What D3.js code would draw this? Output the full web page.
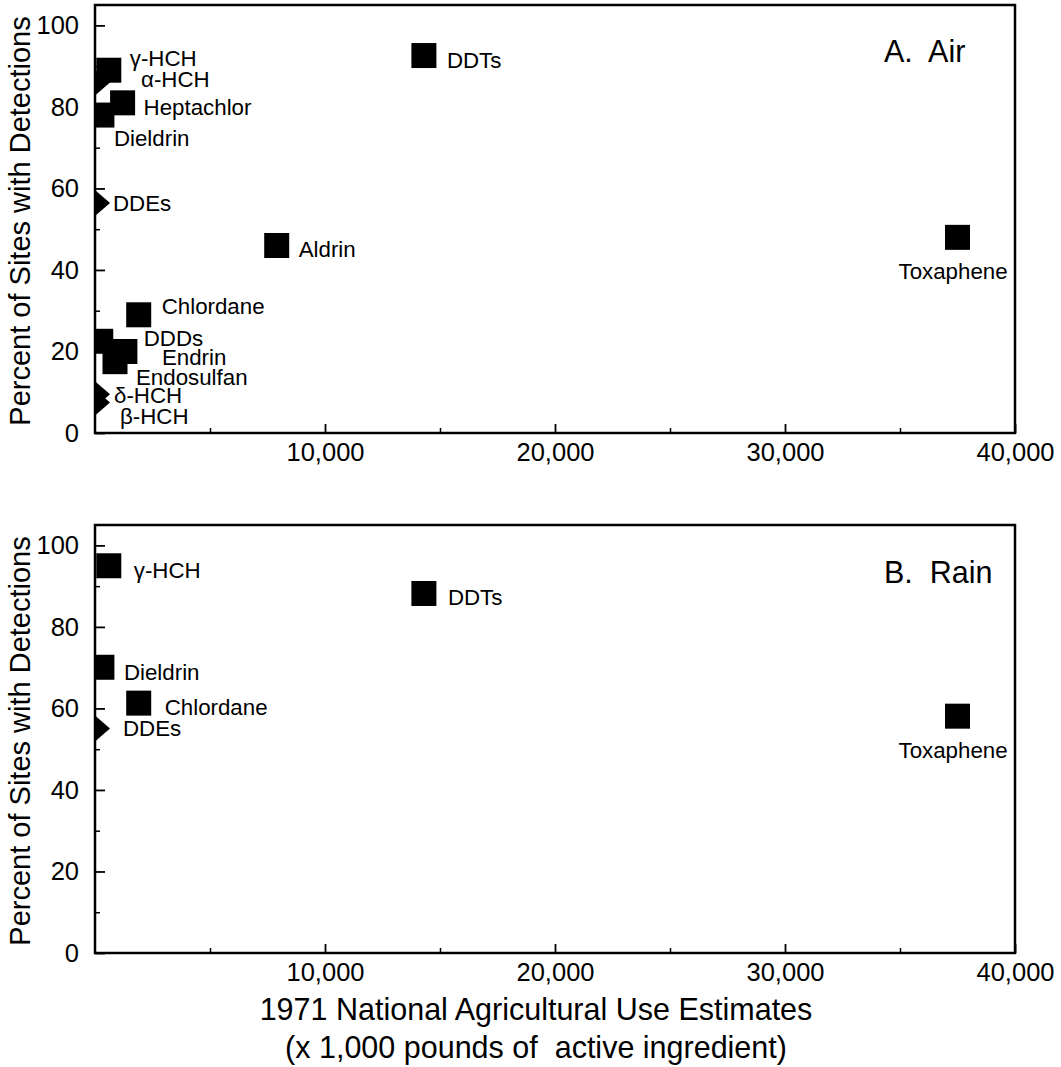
<!DOCTYPE html>
<html>
<head>
<meta charset="utf-8">
<script src="https://cdn.jsdelivr.net/npm/d3@7"></script>
<style>
  html, body { margin: 0; padding: 0; background: #fff; }
  svg { display: block; }
  text { font-family: "Liberation Sans", Arial, Helvetica, sans-serif; fill: #000; white-space: pre; }
</style>
</head>
<body>
<svg id="chart" width="1061" height="1067"></svg>
<script>
// ---------- DATA ----------
// Panel A: Air. null use = no 1971 use estimate (plotted on the axis as a diamond)
const compoundsA = ["DDTs", "γ-HCH", "α-HCH", "Heptachlor", "Dieldrin", "DDEs", "Aldrin", "Toxaphene",
                    "Chlordane", "DDDs", "Endrin", "Endosulfan", "δ-HCH", "β-HCH"];
const useA       = [14300, 600, null, 1200, 300, null, 7900, 37500, 1900, 250, 1300, 870, null, null];
const percentA   = [92.6, 89, 86, 81, 78, 56.4, 46, 48, 29, 22.5, 20, 17.5, 9.5, 7.5];

// Panel B: Rain
const compoundsB = ["γ-HCH", "DDTs", "Dieldrin", "Chlordane", "DDEs", "Toxaphene"];
const useB       = [600, 14300, 300, 1900, null, 37500];
const percentB   = [95, 88.2, 70.1, 61.3, 55.1, 58.1];

const xTicks      = [10000, 20000, 30000, 40000];
const xMinorTicks = [5000, 15000, 25000, 35000];
const yTicks      = [0, 20, 40, 60, 80, 100];
const yMinorTicks = [10, 30, 50, 70, 90];

const panelTitles = ["A.  Air", "B.  Rain"];
const yTitle = "Percent of Sites with Detections";
const xTitle1 = "1971 National Agricultural Use Estimates";
const xTitle2 = "(x 1,000 pounds of  active ingredient)";

// ---------- LAYOUT (label offsets from marker centre, px) ----------
const labelOffA = {
  "DDTs": [23, 12], "γ-HCH": [21, -4], "α-HCH": [46, 5], "Heptachlor": [21, 12], "Dieldrin": [12, 31],
  "DDEs": [18, 8], "Aldrin": [22, 12], "Toxaphene": [-59, 42], "Chlordane": [23, -1], "DDDs": [43, 5],
  "Endrin": [37, 14], "Endosulfan": [21, 23], "δ-HCH": [19, 9], "β-HCH": [25, 22]
};
const labelOffB = {
  "γ-HCH": [25, 12], "DDTs": [24, 12], "Dieldrin": [22, 13], "Chlordane": [26, 12],
  "DDEs": [28, 8], "Toxaphene": [-59, 42]
};

const svg = d3.select("#chart");
const left = 95, right = 1015;
const x = d3.scaleLinear().domain([0, 40000]).range([left, right]);
const FONT = "'Liberation Sans', Arial, sans-serif";

function drawPanel(top, bottom, names, uses, pcts, offs, title, titlePos) {
  const y = d3.scaleLinear().domain([0, 105]).range([bottom, top]);
  const g = svg.append("g");
  const clipId = "clip" + top;
  g.append("clipPath").attr("id", clipId)
    .append("rect").attr("x", left).attr("y", top).attr("width", right - left).attr("height", bottom - top);

  // markers
  const mg = g.append("g").attr("clip-path", `url(#${clipId})`);
  names.forEach((n, i) => {
    const u = uses[i];
    const cx = x(u === null ? 0 : u), cy = y(pcts[i]);
    if (u === null) {
      mg.append("path")
        .attr("d", `M${cx},${cy - 13} L${cx + 15},${cy} L${cx},${cy + 13} L${cx - 15},${cy} Z`)
        .attr("fill", "#000");
    } else {
      mg.append("rect").attr("x", cx - 12.5).attr("y", cy - 12.5)
        .attr("width", 25).attr("height", 25).attr("fill", "#000");
    }
    const o = offs[n];
    g.append("text").attr("x", cx + o[0]).attr("y", cy + o[1])
      .attr("font-size", 22.3).text(n);
  });

  // frame
  g.append("rect").attr("x", left).attr("y", top).attr("width", right - left).attr("height", bottom - top)
    .attr("fill", "none").attr("stroke", "#000").attr("stroke-width", 2.5);

  // x axis ticks (inward)
  const xa = g.append("g").attr("transform", `translate(0,${bottom})`)
    .call(d3.axisBottom(x).tickValues(xTicks).tickSizeInner(-9).tickSizeOuter(0)
      .tickPadding(10).tickFormat(d3.format(",")));
  xa.select(".domain").remove();
  xa.selectAll("line").attr("stroke-width", 1.8);
  xa.selectAll("text").attr("font-size", 25.5).attr("font-family", FONT).attr("fill", "#000");
  const xm = g.append("g").attr("transform", `translate(0,${bottom})`)
    .call(d3.axisBottom(x).tickValues(xMinorTicks).tickSizeInner(-5).tickSizeOuter(0).tickFormat(""));
  xm.select(".domain").remove();
  xm.selectAll("line").attr("stroke-width", 1.5);

  // y axis ticks (inward)
  const ya = g.append("g").attr("transform", `translate(${left},0)`)
    .call(d3.axisLeft(y).tickValues(yTicks).tickSizeInner(-10).tickSizeOuter(0).tickPadding(16));
  ya.select(".domain").remove();
  ya.selectAll("line").attr("stroke-width", 1.8);
  ya.selectAll("text").attr("font-size", 25.5).attr("font-family", FONT).attr("fill", "#000");
  const ym = g.append("g").attr("transform", `translate(${left},0)`)
    .call(d3.axisLeft(y).tickValues(yMinorTicks).tickSizeInner(-5).tickSizeOuter(0).tickFormat(""));
  ym.select(".domain").remove();
  ym.selectAll("line").attr("stroke-width", 1.5);

  // panel title
  g.append("text").attr("x", titlePos[0]).attr("y", titlePos[1]).attr("font-size", 30.5).text(title);

  // y title
  g.append("text").attr("transform", `translate(30,${(top + bottom) / 2 + 2}) rotate(-90)`)
    .attr("text-anchor", "middle").attr("font-size", 29).text(yTitle);
}

drawPanel(5, 433, compoundsA, useA, percentA, labelOffA, panelTitles[0], [884, 62]);
drawPanel(525, 953, compoundsB, useB, percentB, labelOffB, panelTitles[1], [884, 583]);

svg.append("text").attr("x", 536).attr("y", 1020).attr("text-anchor", "middle")
  .attr("font-size", 30.5).text(xTitle1);
svg.append("text").attr("x", 536).attr("y", 1058).attr("text-anchor", "middle")
  .attr("font-size", 30.5).text(xTitle2);
</script>
</body>
</html>
